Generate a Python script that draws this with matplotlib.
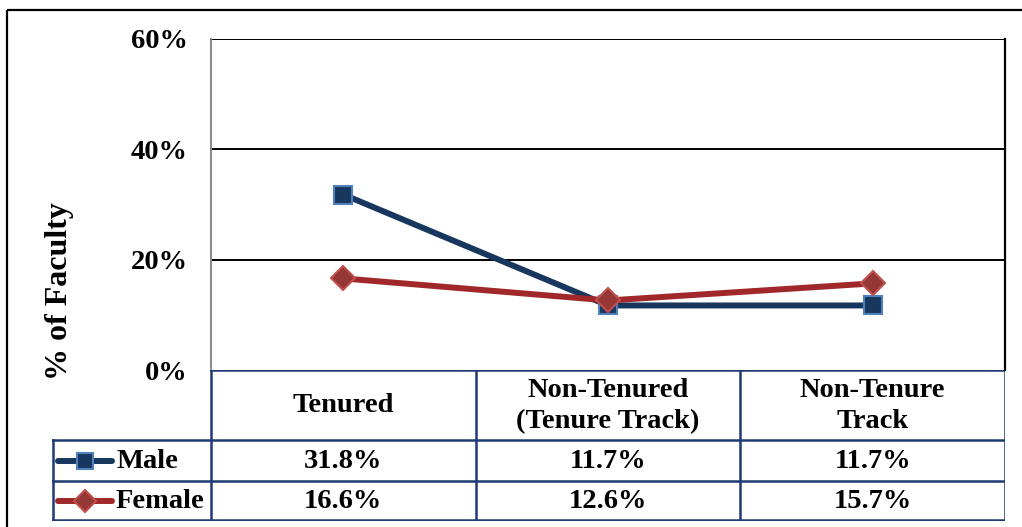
import matplotlib
matplotlib.use("Agg")
import matplotlib.pyplot as plt
from matplotlib.lines import Line2D

categories = ["Tenured", "Non-Tenured\n(Tenure Track)", "Non-Tenure\nTrack"]
series_names = ["Male", "Female"]
male = [31.8, 11.7, 11.7]
female = [16.6, 12.6, 15.7]
yticks = [0, 20, 40, 60]
ytick_labels = ["0%", "20%", "40%", "60%"]

W, H = 1022, 527
fig = plt.figure(figsize=(W / 100, H / 100), dpi=100)
plt.rcParams['font.family'] = ['Liberation Serif', 'DejaVu Serif']

def fbox(x0, y0, x1, y1):
    return [x0 / W, 1 - y1 / H, (x1 - x0) / W, (y1 - y0) / H]

navy = "#17375E"
navy_edge = "#4F81BD"
red = "#A0282A"
red_face = "#953735"
red_edge = "#C0504D"
tbl = "#1F3A73"
FS = 20.5

# outer frame
frame = fig.add_axes([0, 0, 1, 1], zorder=-5)
frame.set_xlim(0, W); frame.set_ylim(H, 0); frame.axis("off")
frame.plot([7, W + 5], [10, 10], color="black", lw=1.6, solid_capstyle="butt")
frame.plot([7, 7], [10, H + 5], color="black", lw=1.6, solid_capstyle="butt")
frame.text(60, 291, "% of Faculty", rotation=90, ha="center", va="center",
           fontsize=23, fontweight="bold")

# chart area
pl, pr, pt, pb = 211, 1005, 39, 370
ax = fig.add_axes(fbox(pl, pt, pr, pb))
ax.set_xlim(-0.5, len(categories) - 0.5)
ax.set_ylim(0, 60)
x = list(range(len(categories)))
for v in yticks[1:]:
    ax.axhline(v, color="black", lw=1.4, zorder=1)
ax.plot(x, male, color=navy, lw=4.3, marker="s", ms=12.5, mfc=navy, mec=navy_edge, mew=1.5, zorder=3)
ax.plot(x, female, color=red, lw=4.3, marker="D", ms=12, mfc=red_face, mec=red_edge, mew=1.5, zorder=4)
ax.set_xticks([])
ax.set_yticks(yticks)
ax.set_yticklabels(ytick_labels, fontsize=FS, fontweight="bold")
ax.tick_params(axis="y", length=0, pad=17)
for s in ["top", "bottom"]:
    ax.spines[s].set_visible(False)
ax.spines["left"].set_color("#8C8C8C")
ax.spines["left"].set_linewidth(1.5)
ax.spines["right"].set_color("black")
ax.spines["right"].set_linewidth(1.6)

# data table
tl, tr, tt, tb = 52, 1005, 370, 521
tax = fig.add_axes(fbox(tl, tt, tr, tb))
cat_w = (pr - pl) / len(categories)
xl = -0.5 - (pl - tl) / cat_w
tax.set_xlim(xl, len(categories) - 0.5)
tax.set_ylim(tb - tt, 0)
tax.axis("off")
r_head, r1, r2 = 70, 111, tb - tt
lw_t = 1.8
tax.plot([-0.5, 2.5], [0, 0], color=tbl, lw=lw_t)
tax.plot([xl, 2.5], [r_head, r_head], color=tbl, lw=lw_t)
tax.plot([xl, 2.5], [r1, r1], color=tbl, lw=lw_t)
tax.plot([xl, 2.5], [r2 - 1, r2 - 1], color=tbl, lw=lw_t)
tax.plot([xl + 0.002, xl + 0.002], [r_head, r2 - 1], color=tbl, lw=lw_t)
for b in [-0.5, 0.5, 1.5, 2.5]:
    tax.plot([b, b], [0, r2 - 1], color=tbl, lw=lw_t)
for i, c in enumerate(categories):
    tax.text(i, r_head / 2 + 1, c, ha="center", va="center", fontsize=FS, fontweight="bold", linespacing=1.3)
rows = [(male, r_head, r1), (female, r1, r2)]
for vals, y0, y1 in rows:
    for i, v in enumerate(vals):
        tax.text(i, (y0 + y1) / 2 + 1, f"{v:.1f}%", ha="center", va="center", fontsize=FS, fontweight="bold")
styles = [dict(color=navy, marker="s", ms=11.5, mfc=navy, mec=navy_edge),
          dict(color=red, marker="D", ms=11, mfc=red_face, mec=red_edge)]
px = (pl - tl)
u = (-0.5 - xl) / px
for name, st, (vals, y0, y1) in zip(series_names, styles, rows):
    ym = (y0 + y1) / 2
    tax.add_line(Line2D([xl + 6 * u, xl + 60 * u], [ym, ym], lw=4.3, color=st["color"],
                        solid_capstyle="round"))
    tax.plot([xl + 33 * u], [ym], ls="none", marker=st["marker"], ms=st["ms"], mfc=st["mfc"], mec=st["mec"], mew=1.5)
    tax.text(xl + 64 * u, ym + 1, name, ha="left", va="center", fontsize=FS, fontweight="bold")

fig.savefig("out.png", dpi=100)
